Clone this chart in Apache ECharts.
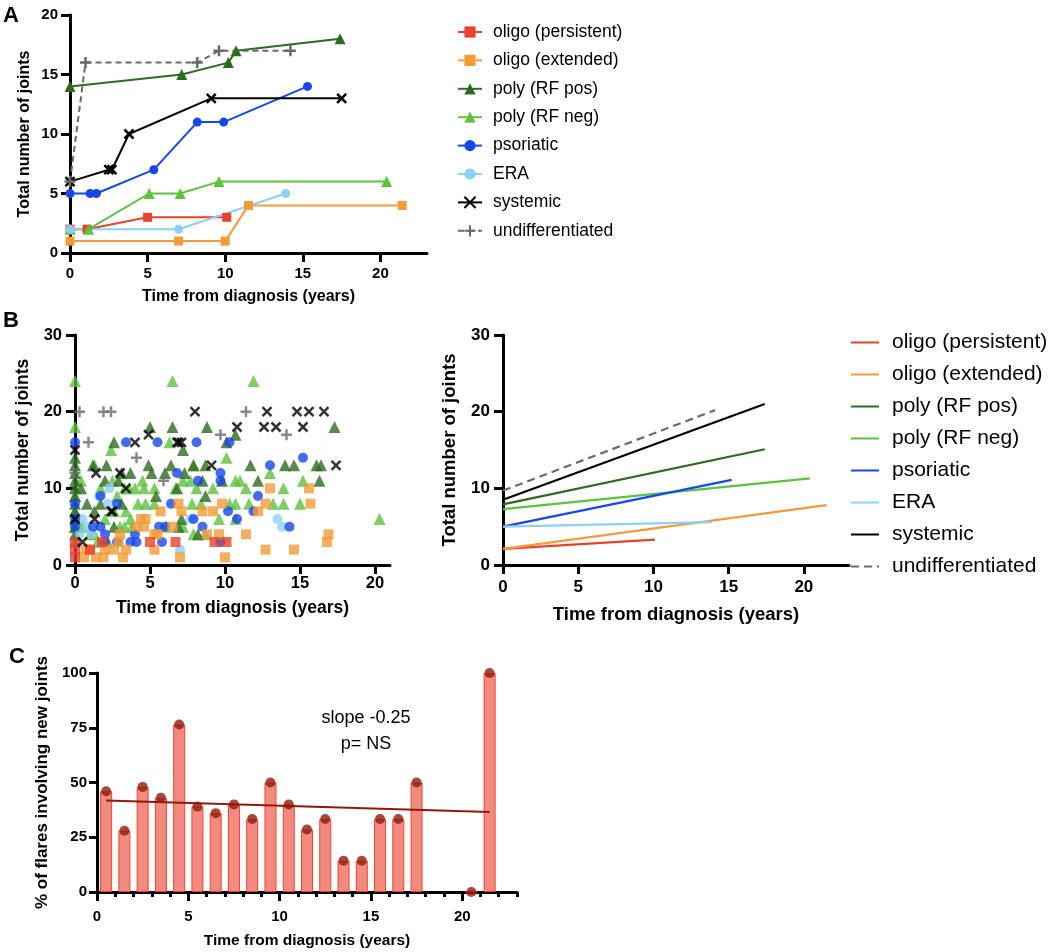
<!DOCTYPE html>
<html><head><meta charset="utf-8">
<script src="https://cdn.jsdelivr.net/npm/echarts@6/dist/echarts.min.js"></script>
<style>html,body{margin:0;padding:0;background:#fff}#c{width:1050px;height:952px}</style>
</head><body><div id="c"></div>
<script>
// ---------- categories ----------
const groupNames = ['oligo (persistent)','oligo (extended)','poly (RF pos)','poly (RF neg)','psoriatic','ERA','systemic','undifferentiated'];
const xTicks = [0,5,10,15,20];

// ---------- Panel A: example patient trajectories ----------
const aOligoPersistent = [[0,2],[1.1,2],[5,3],[10.1,3]];
const aOligoExtended   = [[0,1],[7,1],[10,1],[11.5,4],[21.4,4]];
const aPolyRFpos       = [[0,14],[7.2,15],[10.2,16],[10.7,17],[17.4,18]];
const aPolyRFneg       = [[0,2],[1.2,2],[5.1,5],[7.1,5],[9.6,6],[20.4,6]];
const aPsoriatic       = [[0,5],[1.3,5],[1.7,5],[5.4,7],[8.2,11],[9.9,11],[15.3,14]];
const aERA             = [[0,2],[7,2],[13.9,5]];
const aSystemic        = [[0,6],[2.5,7],[2.7,7],[3.8,10],[9.1,13],[17.5,13]];
const aUndiff          = [[0,6],[1.0,16],[8.2,16],[9.6,17],[14.2,17]];

// ---------- Panel B left: all observations ----------
const sOligoPersistent = [[0,1],[0,2],[0,3],[1.0,2],[1.8,3],[5.0,3],[6.7,3],[9.3,3],[10.1,3]];
const sOligoExtended = [[0.6,1],[0.7,2],[1.0,2],[1.4,1],[1.9,1],[2.0,2],[2.6,2],[2.9,3],[3.0,4],[3.2,1],[3.4,2],[4.1,5],[4.4,6],[4.6,5],[4.7,6],[5.3,2],[5.3,4],[5.5,4],[5.7,7],[6.5,5],[6.9,8],[7.0,1],[7.1,7],[8.5,7],[8.8,4],[9.2,7],[9.6,4],[9.8,8],[10.0,1],[11.4,4],[12.2,7],[12.7,2],[12.7,8],[13.0,10],[14.6,2],[15.6,10],[15.7,8],[16.8,3],[16.9,4]];
const sPolyRFpos = [[0,4],[0,5],[0,6],[0,7],[0,8],[0,9],[0,10],[0,11],[0,12],[0,13],[0,14],[0.4,10],[0.8,8],[1.2,13],[1.3,7],[1.7,8],[2.0,11],[2.1,13],[2.6,16],[2.6,5],[2.9,11],[3.1,12],[3.1,8],[3.7,12],[4.9,13],[5.0,18],[5.1,12],[5.4,9],[6.0,12],[6.4,13],[6.5,18],[6.8,10],[6.9,5],[7.1,6],[7.2,15],[7.3,12],[7.9,13],[8.2,4],[8.5,11],[8.7,13],[8.7,9],[8.8,18],[9.8,11],[10.1,16],[10.7,17],[11.7,13],[12.2,11],[14.0,13],[14.6,13],[16.1,13],[16.3,11],[16.4,13],[17.3,18]];
const sPolyRFneg = [[0,24],[6.5,24],[11.9,24],[0,18],[0,3],[0,5],[0,7],[0,9],[0.4,11],[0.5,5],[1.0,4],[1.3,13],[1.3,4],[1.5,3],[1.7,10],[2.0,6],[2.2,3],[2.4,15],[2.5,11],[2.6,7],[2.8,9],[3.0,5],[3.3,10],[3.3,5],[3.4,7],[3.6,10],[3.7,6],[3.8,5],[4.0,10],[4.2,8],[4.5,11],[4.6,10],[4.7,8],[5.3,10],[5.3,8],[6.1,5],[6.3,16],[6.7,10],[7.2,11],[7.2,5],[7.7,11],[7.8,8],[7.9,13],[7.9,4],[8.1,10],[8.4,8],[8.7,4],[9.2,10],[9.6,6],[10.1,14],[10.3,8],[10.7,11],[10.7,8],[10.7,6],[11.0,11],[11.4,10],[11.6,8],[13.0,12],[13.2,8],[13.9,10],[13.9,8],[15.0,8],[15.2,11],[20.3,6]];
const sPsoriatic = [[0,16],[0,8],[0,6],[0,5],[1.2,5],[1.7,9],[1.7,5],[2.0,4],[2.0,3],[2.8,8],[2.8,3],[3.4,16],[3.7,3],[4.0,4],[4.1,3],[5.5,16],[5.6,5],[5.8,3],[6.0,5],[6.4,8],[6.8,12],[7.9,6],[8.1,16],[8.2,11],[8.5,5],[9.7,12],[9.7,11],[9.7,3],[10.2,7],[10.3,16],[10.8,6],[11.9,7],[12.2,9],[13.0,13],[14.3,5],[15.2,14]];
const sERA = [[0.3,4],[0.5,6],[0.8,5],[1.1,4],[1.6,9],[2.2,8],[2.3,10],[7.0,2],[7.7,6],[13.5,6],[13.8,5]];
const sSystemic = [[0,15],[0,6],[0.5,3],[1.3,6],[1.4,12],[2.4,7],[2.5,7],[3.0,12],[3.4,10],[4.0,16],[4.9,17],[6.8,16],[6.9,16],[7.1,16],[8.0,20],[9.1,13],[10.8,18],[12.6,18],[12.8,20],[13.4,18],[14.8,20],[15.2,18],[15.6,20],[16.6,20],[17.4,13]];
const sUndiff = [[0,12],[0.3,20],[0.9,16],[1.9,20],[2.4,20],[4.1,14],[5.9,11],[9.7,17],[11.4,20],[14.1,17]];

// ---------- Panel B right: fitted trends (end points) ----------
const bOligoPersistent = [[0,2.1],[10.1,3.3]];
const bOligoExtended   = [[0,2.1],[21.5,7.8]];
const bPolyRFpos       = [[0,7.9],[17.4,15.1]];
const bPolyRFneg       = [[0,7.3],[20.4,11.3]];
const bPsoriatic       = [[0,5.0],[15.2,11.1]];
const bERA             = [[0,5.0],[13.9,5.6]];
const bSystemic        = [[0,8.5],[17.4,21.0]];
const bUndiff          = [[0,9.7],[14.1,20.2]];

// ---------- Panel C ----------
const cYears   = [0.5,1.5,2.5,3.5,4.5,5.5,6.5,7.5,8.5,9.5,10.5,11.5,12.5,13.5,14.5,15.5,16.5,17.5,20.5,21.5];
const cPercent = [46,28,48,43,76.5,39,36,40,33.3,50,40,28.5,33.3,14.3,14.3,33.3,33.3,50,0,100];
const cFit     = [[0.5,41.8],[21.5,36.55]];
const cTicks   = [0,5,10,15,20];

// ---------- styles ----------
const FONT = '"Liberation Sans", Arial, Helvetica, sans-serif';
const colors = ['#E8412C','#F39B38','#2E6B1F','#5DC23E','#1746EC','#8DCFF7','#000000','#6A6A6A'];
const X_PATH = 'path://M0,0L10,10M10,0L0,10';
const P_PATH = 'path://M5,0L5,10M0,5L10,5';
const symbols = ['rect','rect','triangle','triangle','circle','circle',X_PATH,P_PATH];
const aData = [aOligoPersistent,aOligoExtended,aPolyRFpos,aPolyRFneg,aPsoriatic,aERA,aSystemic,aUndiff];
const sData = [sOligoPersistent,sOligoExtended,sPolyRFpos,sPolyRFneg,sPsoriatic,sERA,sSystemic,sUndiff];
const bData = [bOligoPersistent,bOligoExtended,bPolyRFpos,bPolyRFneg,bPsoriatic,bERA,bSystemic,bUndiff];
const aSizes = [9,9,11,11,9,9,9,11];
const sSizes = [10,10,12,12,10,10,9,11];

function axis(o){
  const base = {
    type:'value', splitLine:{show:false},
    axisLine:{show:true,onZero:false,lineStyle:{color:'#000',width:3}},
    axisTick:{show:true,inside:false,length:9,lineStyle:{color:'#000',width:3}},
    axisLabel:{color:'#000',fontSize:15,fontWeight:'bold',fontFamily:FONT,margin:12},
    nameLocation:'middle',
    nameTextStyle:{color:'#000',fontSize:16,fontWeight:'bold',fontFamily:FONT}
  };
  const r = Object.assign({}, base, o);
  ['axisLine','axisTick','axisLabel','nameTextStyle'].forEach(k=>{ if(o[k]) r[k]=Object.assign({},base[k],o[k]); });
  return r;
}
const xName = 'Time from diagnosis (years)';
const yName = 'Total number of joints';

const series = [];
// panel A lines
aData.forEach((d,i)=>{
  const isPath = i>=6;
  series.push({
    type:'line', name:groupNames[i], xAxisIndex:0, yAxisIndex:0, data:d,
    symbol:symbols[i], symbolSize:aSizes[i], showSymbol:true,
    lineStyle:{color:colors[i],width:2,type: i===7?[6,4]:'solid'},
    itemStyle: isPath ? {color:colors[i],borderColor:colors[i],borderWidth:2.5} : {color:colors[i]},
    emphasis:{disabled:true}, animation:false, z: 3
  });
});
// panel B left scatter (draw order)
[3,2,5,4,1,0,7,6].forEach(i=>{
  const isPath = i>=6;
  series.push({
    type:'scatter', name:'S '+groupNames[i], xAxisIndex:1, yAxisIndex:1, data:sData[i],
    symbol:symbols[i], symbolSize:sSizes[i],
    itemStyle: isPath ? {color:colors[i],borderColor:colors[i],borderWidth:2.5} : {color:colors[i]},
    emphasis:{disabled:true}, animation:false
  });
});
// panel B right trend lines
bData.forEach((d,i)=>{
  series.push({
    type:'line', name:'B '+groupNames[i], xAxisIndex:2, yAxisIndex:2, data:d,
    symbol:'none', lineStyle:{color:colors[i],width:2.2,type: i===7?[8,5]:'solid'},
    itemStyle:{color:colors[i]}, emphasis:{disabled:true}, animation:false
  });
});
// panel C
const cData = cYears.map((x,i)=>[x,cPercent[i]]);
series.push({type:'bar', name:'C bars', xAxisIndex:3, yAxisIndex:3, data:cData, barWidth:12,
  itemStyle:{color:'#F28A80',borderColor:'#EE4630',borderWidth:1}, emphasis:{disabled:true}, animation:false});
series.push({type:'line', name:'C fit', xAxisIndex:3, yAxisIndex:3, data:cFit, symbol:'none',
  lineStyle:{color:'#8E1A0C',width:2}, emphasis:{disabled:true}, animation:false, z:4});
series.push({type:'scatter', name:'C points', xAxisIndex:3, yAxisIndex:3, data:cData, symbol:'circle', symbolSize:10,
  itemStyle:{color:'#8E1A0C'}, emphasis:{disabled:true}, animation:false, z:5});

const option = {
  backgroundColor:'#fff',
  animation:false,
  title:[
    {text:'A', left:-2, top:0, textStyle:{fontSize:22,fontWeight:'bold',color:'#000',fontFamily:FONT}},
    {text:'B', left:-2, top:305, textStyle:{fontSize:22,fontWeight:'bold',color:'#000',fontFamily:FONT}},
    {text:'C', left:4, top:641, textStyle:{fontSize:22,fontWeight:'bold',color:'#000',fontFamily:FONT}},
    {text:'slope -0.25\np= NS', left:361, top:700, textAlign:'center',
     textStyle:{fontSize:18,fontWeight:'normal',color:'#000',fontFamily:FONT,lineHeight:26,align:'center'}}
  ],
  legend:[
    {data:groupNames, orient:'vertical', left:452, top:18, itemWidth:24, itemHeight:14, itemGap:10.4,
     textStyle:{fontSize:17.5,color:'#000',fontFamily:FONT,lineHeight:14,padding:[0,0,0,6]}, selectedMode:false},
    {data:groupNames.map(n=>'B '+n), formatter:n=>n.slice(2), orient:'vertical', left:845, top:327,
     itemWidth:28, itemHeight:14, itemGap:11,
     itemStyle:{opacity:0},
     textStyle:{fontSize:21,color:'#000',fontFamily:FONT,lineHeight:14,padding:[0,0,0,8]}, selectedMode:false}
  ],
  grid:[
    {left:70, top:15, width:357, height:238},
    {left:75, top:335, width:315, height:230},
    {left:503, top:335, width:346, height:230},
    {left:97, top:673, width:420, height:219}
  ],
  xAxis:[
    axis({gridIndex:0,min:0,max:23,name:xName,nameGap:36,
      axisTick:{customValues:xTicks}, axisLabel:{customValues:xTicks,margin:13}}),
    axis({gridIndex:1,min:0,max:21,name:xName,nameGap:34,nameTextStyle:{fontSize:17.5},
      axisTick:{customValues:xTicks}, axisLabel:{customValues:xTicks,margin:10,fontSize:16.5}}),
    axis({gridIndex:2,min:0,max:23,name:xName,nameGap:40,nameTextStyle:{fontSize:18.5},
      axisTick:{customValues:xTicks}, axisLabel:{customValues:xTicks,margin:14,fontSize:17}}),
    axis({gridIndex:3,min:0,max:23,interval:1,position:'bottom',
      axisTick:{length:5}, axisLabel:{show:false}}),
    axis({gridIndex:3,min:0,max:23,position:'bottom',name:xName,nameGap:41,nameTextStyle:{fontSize:15.5},
      axisLine:{show:false}, axisTick:{customValues:cTicks,length:9}, axisLabel:{customValues:cTicks,margin:17}})
  ],
  yAxis:[
    axis({gridIndex:0,min:0,max:20,interval:5,name:yName,nameGap:37}),
    axis({gridIndex:1,min:0,max:30,interval:10,name:yName,nameGap:43,nameTextStyle:{fontSize:17.5},axisLabel:{margin:13,fontSize:16.5}}),
    axis({gridIndex:2,min:0,max:30,interval:10,name:yName,nameGap:44,nameTextStyle:{fontSize:18.5},axisLabel:{margin:13,fontSize:17}}),
    axis({gridIndex:3,min:0,max:100,interval:25,name:'% of flares involving new joints',nameGap:46.5,nameTextStyle:{fontSize:17},
      axisTick:{length:8}, axisLabel:{margin:10}})
  ],
  series:series
};
const chart = echarts.init(document.getElementById('c'),null,{renderer:'canvas'});
chart.setOption(option);
</script>
</body></html>
